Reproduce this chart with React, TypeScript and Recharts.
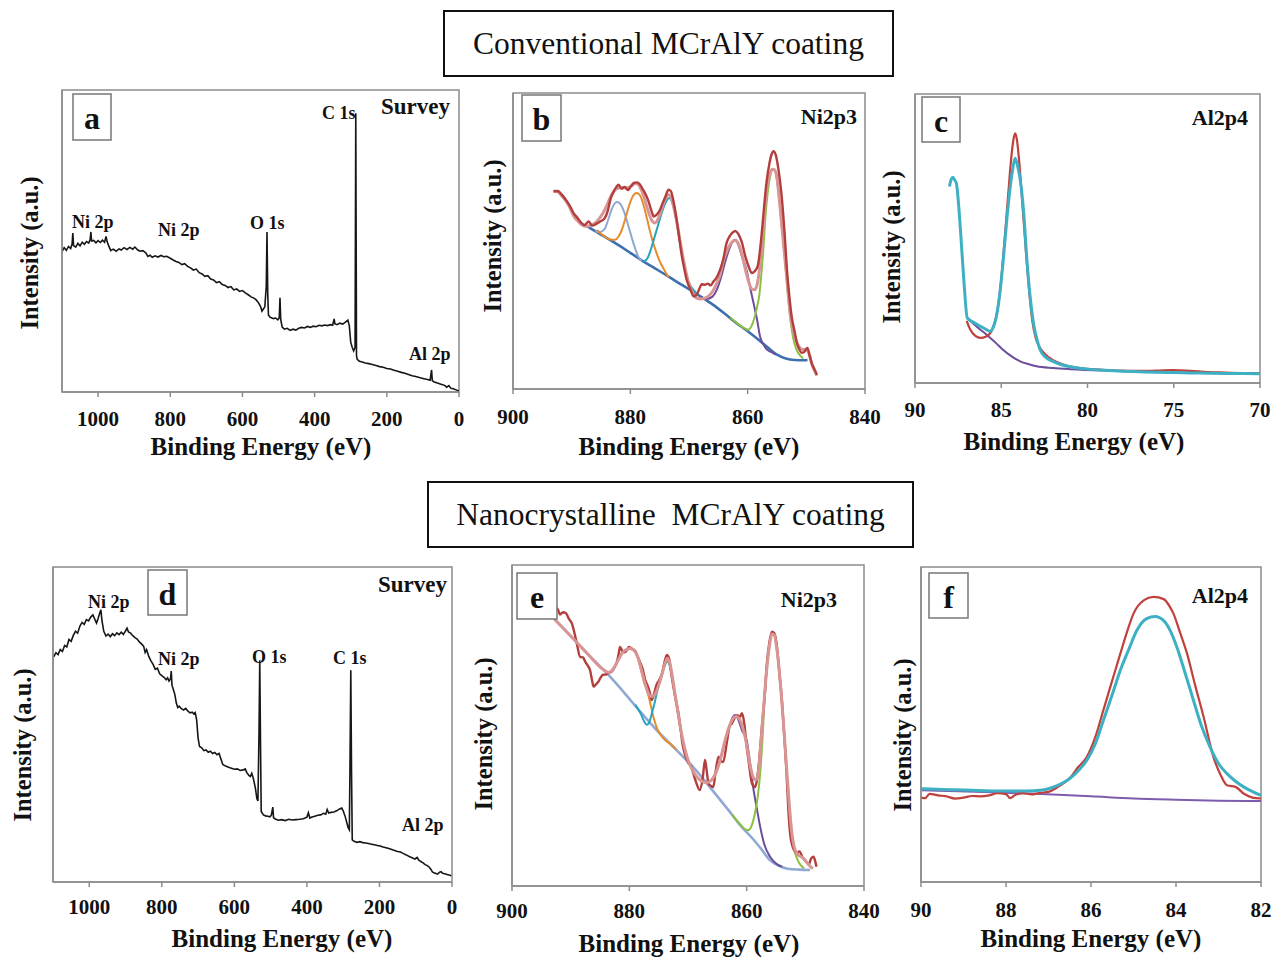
import React from 'react';
import { LineChart, Line, XAxis, YAxis, ReferenceArea } from 'recharts';

const FONT = '"Liberation Serif", "Times New Roman", serif';

// ---------- Panel a: survey, conventional ----------
const aSurvey: [number, number][] = [
  [1100, 46.5], [1094, 47.8], [1088, 46.9], [1082, 48.2], [1076, 47.5], [1072, 49], [1070, 52.6], [1068, 48.5],
  [1062, 48], [1056, 49.2], [1050, 48.4], [1044, 49.6], [1038, 48.9], [1032, 49.8], [1026, 49.3], [1022, 50.5],
  [1020, 53], [1018, 50], [1012, 50.2], [1006, 49.4], [1000, 50.1], [994, 49.5], [988, 50.3], [982, 49.6],
  [978, 51.5], [975, 49.8], [970, 48.2], [965, 46.8], [958, 47.3], [950, 46.6], [942, 47.4], [936, 47],
  [928, 47.8], [920, 47.2], [912, 47.9], [904, 47.3], [898, 48], [890, 47], [884, 46.6], [876, 46.8],
  [868, 46.1], [862, 44.9], [856, 45.3], [850, 44.6], [842, 45.1], [834, 44.7], [826, 45.2], [818, 44.8],
  [810, 44.9], [800, 44.3], [792, 43.7], [784, 43.2], [776, 42.9], [768, 42.2], [760, 42.5], [752, 41.6],
  [744, 41.1], [736, 40.4], [728, 40.7], [720, 39.5], [712, 39.1], [704, 38.3], [696, 38.5], [688, 37.4],
  [680, 37.1], [672, 36.2], [664, 36.5], [656, 35.6], [648, 35.3], [640, 34.6], [632, 34.9], [624, 33.8],
  [616, 34.1], [608, 33.3], [600, 33.6], [592, 32.8], [584, 32.2], [576, 31.5], [568, 31.1], [562, 30.5],
  [556, 29.6], [550, 28.4], [546, 26.8], [542, 27.5], [538, 28.2], [534, 35], [532, 53], [530, 33],
  [528, 25.5], [524, 24.8], [520, 24.6], [514, 24.3], [508, 24.5], [502, 23.9], [498, 24.6], [496, 31.2],
  [494, 24], [490, 21.5], [484, 20.8], [476, 21.1], [468, 20.4], [460, 20.8], [452, 20.5], [444, 21.1],
  [436, 21.4], [428, 21.2], [420, 21.7], [412, 21.4], [404, 21.8], [396, 21.6], [388, 22.1], [380, 21.9],
  [372, 22.2], [364, 22.0], [356, 22.3], [350, 22.1], [346, 24.2], [344, 22.6], [338, 22.3], [330, 22.8],
  [322, 22.5], [314, 23.2], [308, 23.8], [304, 22], [300, 16.5], [296, 14.8], [292, 13.6], [288, 14.8],
  [286, 92.3], [284, 12], [282, 10.8], [276, 10.2], [268, 9.9], [260, 9.6], [250, 9.4], [240, 9.1],
  [230, 8.8], [220, 8.4], [210, 8.2], [200, 7.8], [190, 7.6], [180, 7.2], [170, 6.9], [160, 6.5],
  [150, 6.2], [140, 5.8], [130, 5.4], [120, 5.1], [110, 4.8], [100, 4.5], [90, 4.2], [80, 3.9],
  [76, 7.3], [74, 3.8], [70, 3.4], [60, 3.0], [50, 2.6], [40, 2.2], [34, 1.6], [28, 2.1],
  [22, 1.2], [14, 1.0], [8, 0.7], [0, 0.3],
];

// ---------- Panel b: Ni2p3, conventional ----------
const bRaw: [number, number][] = [
  [893.1, 66.8], [892.4, 66.9], [891.6, 65.5], [890.8, 63.4], [890.2, 61.5], [889.7, 59.5], [889.0, 57.8],
  [888.4, 56.2], [887.8, 55.4], [887.1, 56.6], [886.5, 55.2], [885.8, 55.8], [885.2, 56.5], [884.4, 57.6],
  [883.8, 60.5], [883.4, 64], [882.9, 66.5], [882.4, 68.2], [882.0, 69], [881.5, 67.6], [881.0, 68.3],
  [880.4, 67.2], [879.9, 68.5], [879.4, 69.6], [878.9, 69.8], [878.4, 69.2], [878.0, 67.9], [877.5, 66.2],
  [876.9, 63.4], [876.4, 60.2], [876.0, 58.3], [875.5, 58.9], [875.0, 60.3], [874.5, 62.8], [874.0, 65.1],
  [873.5, 67.3], [873.1, 66.9], [872.6, 63], [872.1, 57.2], [871.7, 51.5], [871.3, 45.9], [870.8, 40.5],
  [870.4, 36.9], [869.8, 33.8], [869.2, 31.3], [868.7, 31.8], [868.3, 33.5], [867.8, 35.4], [867.3, 35.2],
  [866.8, 35.6], [866.3, 35.0], [865.8, 36.4], [865.3, 37.6], [864.7, 40.3], [864.2, 43.5], [863.6, 49.3],
  [863.0, 51.8], [862.4, 53.1], [862.1, 53.4], [861.6, 52.4], [861.0, 49.6], [860.4, 44.8], [859.8, 41.2],
  [859.3, 39.2], [858.8, 39.8], [858.3, 41.4], [857.6, 52.7], [857.2, 61.5], [856.8, 69.6], [856.3, 76.1],
  [855.9, 79.4], [855.6, 80.3], [855.2, 79], [854.8, 74.8], [854.2, 65.1], [853.7, 52.5], [853.3, 40.3],
  [852.9, 31.5], [852.5, 24.5], [852.0, 19.4], [851.6, 15.5], [851.2, 13.4], [850.8, 12.2], [850.4, 12.4],
  [850.0, 13.6], [849.8, 13.9], [849.5, 11.8], [849.1, 8.8], [848.6, 6.6], [848.2, 4.8],
];
const bEnvelope: [number, number][] = [
  [893.1, 66.8], [892.4, 66.6], [891.6, 65], [890.8, 63], [890.2, 60.8], [889.7, 58.6], [889.0, 56.8],
  [888.4, 55.6], [887.8, 55.0], [887.1, 55.1], [886.4, 55.6], [885.8, 56.4], [885.2, 57.8], [884.6, 59.6],
  [884.0, 62], [883.4, 64.8], [882.8, 66.8], [882.2, 67.8], [881.6, 68], [881.0, 68], [880.4, 68],
  [879.8, 68.6], [879.2, 69.4], [878.7, 69.2], [878.2, 67.6], [877.6, 64.4], [877.0, 60.4], [876.4, 57.2],
  [875.8, 56.1], [875.2, 57.8], [874.6, 61.2], [874.0, 64.4], [873.5, 65.6], [873.0, 64.5], [872.5, 60.5],
  [871.9, 54.5], [871.3, 47.5], [870.7, 41.2], [870.1, 36.2], [869.4, 32.6], [868.7, 30.7], [868.0, 30.4],
  [867.3, 30.7], [866.6, 31.5], [865.9, 33.2], [865.2, 36], [864.7, 38.5], [864.2, 42.8], [863.6, 46.4],
  [863.0, 48.8], [862.4, 50.1], [862.1, 50.2], [861.6, 49.2], [861.0, 45.6], [860.4, 40.5], [859.8, 36],
  [859.3, 33.8], [858.8, 33.5], [858.5, 34.5], [858.1, 38.5], [857.6, 48.2], [857.1, 60.5], [856.7, 68.5],
  [856.2, 72.6], [855.8, 74.2], [855.4, 74], [855.0, 71.2], [854.5, 62], [854.0, 51.5], [853.5, 41],
  [853.1, 32.5], [852.7, 24.8], [852.2, 19.5], [851.7, 16.2], [851.3, 14.4], [850.8, 13.5], [850.3, 13.3],
  [849.9, 13.2], [849.4, 11], [849.0, 8], [848.6, 6.2], [848.2, 4.5],
];
const bBackground: [number, number][] = [
  [887.4, 55.0], [886, 53.3], [884, 51], [882, 48.6], [880, 46], [878, 43.4], [876, 41], [874, 38.6],
  [872, 36.1], [870, 33.7], [868, 31.2], [866, 28.6], [864, 25.6], [862, 22.4], [860, 19.5], [858, 16.4],
  [856.5, 13.9], [855, 11.6], [853.5, 10.3], [852, 9.8], [850.5, 9.7], [849.8, 9.8],
];
const bPeak882: [number, number][] = [
  [886.0, 53.3], [885.2, 53], [884.4, 54], [883.8, 57], [883.2, 60.6], [882.6, 62.8], [882.2, 63.2],
  [881.6, 62.2], [881.0, 59.5], [880.4, 55.6], [879.8, 51.4], [879.2, 47.6], [878.6, 44.5], [878.0, 43.4],
];
const bPeak879: [number, number][] = [
  [885.7, 53.7], [884.6, 51.8], [883.6, 50.6], [882.6, 50.4], [882.0, 51.5], [881.4, 54], [880.8, 58],
  [880.2, 62], [879.6, 65], [879.0, 66.2], [878.5, 65.8], [878.0, 63.8], [877.4, 59.5], [876.8, 54.5],
  [876.2, 50], [875.6, 46.3], [875.0, 43.2], [874.3, 40.5], [873.5, 37.8],
];
const bPeak873: [number, number][] = [
  [877.8, 43.1], [877.2, 43.8], [876.6, 46.5], [876.0, 50.5], [875.4, 54.5], [874.8, 58.5], [874.2, 62],
  [873.7, 64], [873.3, 64.5], [872.9, 63.2], [872.4, 59.5], [871.9, 54], [871.4, 48], [870.9, 42.5],
  [870.4, 38.2], [869.8, 35], [869.2, 33.4], [868.6, 32],
];
const bPeak862: [number, number][] = [
  [868.0, 31.2], [867.0, 30.4], [866.0, 31.2], [865.2, 33.8], [864.5, 38], [863.8, 43.2], [863.0, 48],
  [862.4, 50.2], [862.1, 50.4], [861.6, 48.8], [861.0, 45], [860.2, 40.3], [859.6, 34.5], [859.0, 29],
  [858.4, 23.5], [857.9, 17.8], [857.3, 15], [856.8, 13.5], [856.0, 12.5], [855.2, 11.6],
];
const bPeak855: [number, number][] = [
  [863.0, 24.2], [862.0, 22.6], [861.0, 21], [860.3, 20.3], [859.9, 20], [859.3, 21.5], [858.5, 26.8],
  [858.0, 32], [857.6, 40.3], [857.3, 48], [857.0, 57.5], [856.6, 66], [856.2, 71.5], [855.8, 74],
  [855.5, 74], [855.1, 71.8], [854.6, 63.5], [854.1, 53], [853.6, 42.5], [853.2, 33.5], [852.8, 25],
  [852.4, 19], [852.0, 15.2], [851.5, 12.6], [851.0, 11.2], [850.5, 10.3],
];

// ---------- Panel c: Al2p, conventional ----------
const cRaw: [number, number][] = [
  [87.0, 21.5], [86.8, 18.5], [86.5, 16.3], [86.2, 15.6], [85.9, 16], [85.6, 17.6], [85.4, 20.5],
  [85.2, 26], [85.0, 36], [84.8, 50], [84.6, 65], [84.45, 76], [84.3, 84], [84.2, 86.4], [84.1, 84.5],
  [83.95, 76], [83.8, 64], [83.6, 48], [83.4, 33], [83.2, 21.5], [83.0, 15.5], [82.8, 12.6], [82.5, 10.2],
  [82.0, 7.9], [81.5, 6.6], [81.0, 5.7], [80.0, 4.9], [79.0, 4.5], [78.0, 4.3], [77.0, 4.2], [76.0, 4.3],
  [75.0, 4.5], [74.0, 4.2], [73.0, 3.8], [72.0, 3.6], [71.0, 3.4], [70.0, 3.3],
];
const cFit: [number, number][] = [
  [88.0, 68], [87.9, 70.5], [87.8, 71.2], [87.7, 70.2], [87.6, 69.1], [87.45, 60], [87.3, 47.2],
  [87.15, 34], [86.97, 22.5], [86.6, 21], [86.2, 19.6], [85.9, 18.6], [85.65, 17.9], [85.45, 19.5],
  [85.3, 22.5], [85.1, 30], [84.9, 41.5], [84.7, 55], [84.5, 66.8], [84.35, 73.5], [84.2, 77.8],
  [84.05, 75], [83.9, 70.3], [83.7, 59], [83.5, 41.5], [83.3, 28.5], [83.1, 19.6], [82.9, 14.5],
  [82.75, 11.5], [82.4, 8.8], [82.0, 7.5], [81.5, 6.3], [81.0, 5.6], [80.0, 4.8], [79.0, 4.4],
  [78.0, 4.1], [77.0, 3.9], [76.0, 3.7], [75.0, 3.6], [74.0, 3.5], [73.0, 3.4], [72.0, 3.3],
  [71.0, 3.25], [70.0, 3.2],
];
const cBackground: [number, number][] = [
  [86.97, 22.5], [86.4, 19.4], [85.85, 16.7], [85.3, 13.8], [84.9, 11.5], [84.4, 9.2], [83.9, 7.5],
  [83.4, 6.5], [82.95, 5.8], [82, 5.2], [81, 4.8], [79, 4.3], [77, 4.0], [75, 3.7], [73, 3.5], [70, 3.2],
];

// ---------- Panel d: survey, nanocrystalline ----------
const dSurvey: [number, number][] = [
  [1098, 71.5], [1092, 72.8], [1086, 72.2], [1080, 73.8], [1074, 73.2], [1068, 75.1], [1062, 74.6],
  [1056, 77], [1050, 76.4], [1044, 78.3], [1038, 79.6], [1032, 79], [1026, 81.2], [1020, 82.4],
  [1014, 81.8], [1008, 83.3], [1002, 82.9], [996, 84.1], [990, 84.8], [984, 83.2], [980, 82.2],
  [976, 83.5], [972, 85.1], [968, 86.4], [965, 83], [960, 79.6], [954, 78.1], [948, 78.7], [942, 77.9],
  [936, 78.8], [930, 78.2], [924, 79.1], [918, 78.5], [912, 79.3], [906, 78.6], [900, 79.7], [896, 80.6],
  [892, 79.4], [886, 79], [880, 78.2], [874, 77.6], [868, 77.1], [862, 76.2], [856, 75.6], [850, 74.8],
  [846, 72.9], [842, 73.8], [836, 71.6], [830, 70.2], [824, 69.1], [818, 67.5], [812, 67.9], [806, 66.1],
  [800, 65.5], [794, 65], [788, 64.2], [784, 64.8], [780, 63.8], [776, 64.5], [774, 67], [772, 62.5],
  [768, 61], [764, 59.5], [760, 56.8], [756, 55.4], [752, 55.8], [746, 55], [740, 54.6], [734, 55.1],
  [728, 54.2], [722, 53.7], [716, 53.9], [712, 53.4], [708, 53.8], [704, 51.5], [700, 45.7], [696, 43],
  [690, 42.6], [684, 41.7], [678, 41.9], [672, 41.2], [666, 41.5], [660, 40.8], [654, 41.1], [648, 40.4],
  [642, 40.8], [638, 39.4], [632, 37.3], [624, 36.8], [616, 36.4], [608, 36.1], [600, 35.8], [592, 35.9],
  [584, 35.4], [576, 35.6], [570, 35.9], [566, 34.8], [560, 33.8], [556, 33.5], [552, 34.5], [548, 33],
  [542, 29.8], [538, 26.5], [535, 25.7], [532, 48], [530, 70.4], [528, 45], [526, 22.4], [520, 21.3],
  [514, 21], [508, 20.9], [502, 20.7], [498, 21.2], [494, 23.8], [492, 20.4], [486, 19.9], [478, 19.6],
  [470, 19.8], [460, 19.5], [450, 19.9], [440, 19.7], [430, 19.8], [420, 19.9], [410, 20.1], [400, 20.6],
  [396, 22], [392, 20.3], [386, 20.6], [378, 20.9], [370, 21.2], [362, 21.3], [354, 21.8], [348, 21.5],
  [344, 23], [340, 21.9], [334, 22.1], [326, 22.2], [318, 22.6], [310, 23.2], [304, 23.5], [300, 22.6],
  [294, 20.6], [290, 18.8], [286, 17.2], [283, 16.6], [281, 40], [279, 67.2], [277, 35], [275, 13.4],
  [270, 12.9], [262, 12.6], [254, 12.8], [246, 12.5], [238, 12.4], [230, 12.2], [222, 12], [214, 11.8],
  [206, 11.6], [198, 11.4], [190, 11.1], [182, 10.9], [174, 10.6], [166, 10.3], [158, 10.0], [150, 9.7],
  [142, 9.5], [134, 9.0], [126, 8.6], [118, 8.1], [110, 7.7], [102, 7.3], [96, 7.8], [92, 7.0], [86, 6.5],
  [80, 6.1], [74, 5.5], [68, 5.2], [62, 4.6], [58, 4.0], [54, 3.2], [50, 2.9], [44, 2.7], [40, 2.5],
  [34, 3.1], [30, 3.3], [26, 2.8], [20, 2.6], [14, 2.4], [8, 2.2], [2, 2.0],
];

// ---------- Panel e: Ni2p3, nanocrystalline ----------
const eRaw: [number, number][] = [
  [892.6, 85.5], [892.3, 86.5], [891.8, 84.6], [891.3, 85.3], [890.8, 85], [890.3, 83.2], [889.8, 81.8],
  [889.3, 78.4], [888.9, 75.1], [888.4, 71.4], [887.9, 71.2], [887.5, 69.8], [887.0, 68.4], [886.7, 67.3],
  [886.4, 64.5], [886.1, 62.1], [885.7, 62.8], [885.3, 63.6], [884.9, 64.9], [884.5, 65.8], [884.0, 65.9],
  [883.5, 66.4], [883.0, 66.8], [882.5, 68.2], [882.1, 69.9], [881.8, 72.5], [881.6, 74.5], [881.2, 73.2],
  [880.8, 72.8], [880.4, 73.5], [880.1, 74.5], [879.6, 74], [879.0, 73.2], [878.6, 71.6], [878.2, 69.9],
  [877.7, 67.4], [877.3, 64.2], [876.9, 62.5], [876.5, 60.3], [876.2, 57.9], [875.8, 59.8], [875.4, 62.5],
  [874.9, 64.2], [874.4, 66.4], [874.0, 69.8], [873.6, 72], [873.2, 70.8], [872.9, 66.8], [872.5, 62.1],
  [872.1, 58.2], [871.7, 54.5], [871.3, 49.6], [871.0, 45], [870.6, 41.5], [870.2, 39.3], [869.9, 38.2],
  [869.5, 37.4], [869.1, 35.1], [868.6, 32.2], [868.0, 29.9], [867.5, 33.5], [867.1, 39.3], [866.8, 35.8],
  [866.5, 31.8], [866.1, 31.2], [865.7, 30.8], [865.3, 35.5], [864.8, 40.3], [864.5, 39.3], [864.0, 38.6],
  [863.4, 44.5], [862.9, 49.8], [862.5, 50.7], [862.0, 52.5], [861.6, 53.2], [861.2, 52.6], [860.8, 53.8],
  [860.4, 50.5], [860.0, 43.4], [859.6, 38], [859.1, 32], [858.6, 30.8], [858.3, 32.5], [857.9, 38.5],
  [857.4, 49.6], [856.9, 60], [856.6, 68.3], [856.2, 75], [855.7, 79.2], [855.3, 78.8], [854.9, 75.5],
  [854.4, 66], [854.0, 57.9], [853.6, 47], [853.2, 35.1], [852.9, 24], [852.6, 16.4], [852.2, 12.5],
  [851.8, 10.8], [851.5, 10.2], [851.0, 10.8], [850.5, 9], [850.1, 8.1], [849.7, 7.2], [849.4, 6.8],
  [849.0, 8.6], [848.6, 9.1], [848.3, 7.6], [848.1, 6],
];
const eEnvelope: [number, number][] = [
  [892.9, 83.4], [890, 77.9], [887, 72.1], [884.5, 67.5], [883.5, 66.5], [882.8, 67.5], [882, 70],
  [881.2, 72.6], [880.4, 73.8], [879.9, 74], [879.2, 73.4], [878.6, 71.5], [878.0, 67.8], [877.4, 63.5],
  [876.8, 60.2], [876.2, 59], [875.6, 59.8], [875.0, 62.5], [874.4, 66.2], [873.9, 69.5], [873.5, 70.9],
  [873.1, 69.5], [872.6, 64.5], [872.1, 58.5], [871.6, 52.8], [871.1, 47.5], [870.5, 42.5], [869.9, 38.8],
  [869.2, 36], [868.4, 33.8], [867.6, 32.6], [866.8, 32.2], [866.0, 33], [865.2, 35.5], [864.5, 39.3],
  [863.8, 44.5], [863.0, 49.5], [862.3, 52.2], [861.8, 52.8], [861.3, 52.2], [860.7, 49.5], [860.0, 44],
  [859.4, 37.5], [858.8, 33.5], [858.4, 33], [858.0, 35.5], [857.6, 44], [857.1, 56], [856.6, 67],
  [856.1, 75], [855.7, 78.5], [855.3, 78.2], [854.8, 73], [854.2, 62], [853.7, 50], [853.2, 37],
  [852.7, 24.5], [852.3, 16.5], [851.9, 12.2], [851.4, 10], [850.8, 9.2], [850.2, 8.4], [849.6, 7],
  [849.1, 6], [848.7, 5.4],
];
const eBackground: [number, number][] = [
  [892.9, 83.4], [890, 77.9], [887, 72.1], [884, 66.6], [881, 60.5], [878, 54], [875, 47.9], [872, 42.4],
  [869, 36.8], [866, 30.2], [863, 23.4], [861, 18.7], [859, 14.8], [857.5, 11.5], [856, 8], [854.5, 6.3],
  [853, 5.4], [851, 5.1], [849.2, 5.0],
];
const ePeak879: [number, number][] = [
  [883.5, 66.5], [882.8, 67.5], [882, 70], [881.2, 72.6], [880.4, 73.8], [879.9, 74], [879.2, 73.4],
  [878.6, 71.3], [878.0, 67.2], [877.4, 63], [877.0, 61.1], [876.5, 57.5], [875.9, 52.7], [875.3, 49.2],
  [874.7, 47.2], [874.0, 45.6], [873.0, 44.3], [872.0, 42.5],
];
const ePeak873: [number, number][] = [
  [879, 56.5], [878, 53.5], [877.4, 51], [877, 50.2], [876.6, 51], [876.2, 53.5], [875.7, 57],
  [875.2, 61], [874.7, 64.5], [874.2, 67.5], [873.8, 69.3], [873.5, 69.9], [873.1, 68.5], [872.6, 63.8],
  [872.1, 58], [871.6, 52.5], [871.1, 47], [870.5, 42.2], [869.9, 39], [869.2, 37],
];
const ePeak862: [number, number][] = [
  [867, 32.4], [866, 33], [865.2, 35.5], [864.5, 39.3], [863.8, 44.5], [863, 49.5], [862.4, 52.5],
  [862, 53.3], [861.5, 52.2], [860.8, 48.5], [860, 45.5], [859.4, 38], [858.9, 30.9], [858.3, 24.5],
  [857.7, 18.5], [857.0, 13], [856.0, 9.1], [855.0, 7], [854.0, 6],
];
const ePeak855: [number, number][] = [
  [862.5, 22.3], [861, 19], [860.2, 17.6], [859.7, 17.4], [859.2, 18.6], [858.6, 22.6], [858.1, 28],
  [857.7, 35.1], [857.3, 46], [856.9, 60], [856.5, 69], [856.1, 75.5], [855.7, 78.5], [855.3, 78.2],
  [854.8, 73], [854.2, 62], [853.7, 50], [853.2, 37], [852.7, 24.5], [852.3, 16.5], [851.9, 11.5],
  [851.4, 8.5], [850.8, 6.5], [850.2, 5.6],
];

// ---------- Panel f: Al2p, nanocrystalline ----------
const fRaw: [number, number][] = [
  [90.0, 26.8], [89.9, 26.6], [89.8, 28], [89.6, 27.5], [89.4, 27.2], [89.2, 26.5], [89.0, 26.8],
  [88.8, 27.3], [88.6, 27.2], [88.4, 27.5], [88.2, 28.2], [88.0, 27.9], [87.9, 26.6], [87.8, 27.5],
  [87.6, 28.2], [87.4, 27.8], [87.2, 28.3], [87.0, 28.6], [86.8, 30], [86.5, 33], [86.3, 36.5],
  [86.1, 39.7], [85.9, 46], [85.71, 54.5], [85.5, 64], [85.31, 72.5], [85.15, 79.5], [85.0, 85.2],
  [84.76, 89.4], [84.53, 90.5], [84.29, 89.8], [84.15, 87.5], [84.06, 85.2], [83.9, 79], [83.74, 72.5],
  [83.55, 62.5], [83.35, 52.4], [83.12, 39.7], [82.95, 34], [82.8, 30.7], [82.6, 30.2], [82.4, 28],
  [82.2, 26.8], [82.0, 26.5],
];
const fFit: [number, number][] = [
  [90.0, 29.6], [89.5, 29.4], [89.0, 29.2], [88.5, 29.0], [88.0, 28.9], [87.5, 28.9], [87.2, 29.1],
  [87.0, 29.6], [86.8, 30.6], [86.5, 32.8], [86.3, 35.3], [86.1, 38.6], [85.9, 43.8], [85.71, 51.3],
  [85.5, 59.5], [85.31, 67.2], [85.1, 74.2], [84.92, 79.9], [84.69, 83.6], [84.49, 84.3], [84.29, 83],
  [84.15, 80.2], [83.98, 74.6], [83.8, 67], [83.59, 57.7], [83.4, 49.5], [83.2, 42.9], [83.0, 37.6],
  [82.8, 34.4], [82.6, 32], [82.41, 30.2], [82.2, 28.7], [82.0, 27.5],
];
const fBackground: [number, number][] = [
  [90.0, 29.1], [88.5, 28.6], [87.3, 28], [86, 27.2], [85, 26.5], [84, 26.1], [83, 25.8], [82, 25.7],
];

type Series = { pts: [number, number][]; color: string; width: number; smooth?: boolean };

const AXIS_GREY = '#8c8c8c';
const MT = 4, PAD = 30, LW = 10, BH = 40;

function Panel(props: {
  left: number; top: number; w: number; h: number; xDomain: [number, number]; xTicks: number[];
  series: Series[]; tickGap: number;
}) {
  const { left, top, w, h, xDomain, xTicks, series, tickGap } = props;
  return (
    <div style={{ position: 'absolute', left: left - LW - PAD, top: top - MT }}>
      <LineChart width={PAD + LW + w + PAD} height={MT + h + BH} margin={{ top: MT, right: PAD, left: PAD, bottom: 0 }}>
        <XAxis
          type="number"
          dataKey="x"
          domain={xDomain}
          ticks={xTicks}
          reversed
          allowDataOverflow
          height={BH}
          axisLine={{ stroke: AXIS_GREY, strokeWidth: 1.5 }}
          tickLine={{ stroke: AXIS_GREY, strokeWidth: 1.5 }}
          tickSize={5}
          tickMargin={tickGap}
          tick={{ fill: '#111', fontSize: 21, fontWeight: 'bold', fontFamily: FONT }}
          interval={0}
        />
        <YAxis
          type="number"
          domain={[0, 100]}
          width={LW}
          tick={false}
          tickLine={false}
          axisLine={{ stroke: AXIS_GREY, strokeWidth: 1.5 }}
          allowDataOverflow
        />
        <ReferenceArea
          x1={xDomain[0]} x2={xDomain[1]} y1={0} y2={100}
          fill="none" stroke={AXIS_GREY} strokeWidth={1.5} ifOverflow="visible"
        />
        {series.map((s, i) => (
          <Line
            key={i}
            data={s.pts.map(([x, y]) => ({ x, y }))}
            dataKey="y"
            type={s.smooth ? 'monotone' : 'linear'}
            stroke={s.color}
            strokeWidth={s.width}
            dot={false}
            activeDot={false}
            isAnimationActive={false}
          />
        ))}
      </LineChart>
    </div>
  );
}

const BLACK = '#161616';
const RED = '#b23f3d';
const PINK = '#d99593';
const BLUE = '#3e6fae';
const LIGHTBLUE = '#8fa9d4';
const ORANGE = '#e58d2c';
const TEAL = '#27a3bd';
const PURPLE = '#6b4d9b';
const GREEN = '#8dbf45';
const CYAN = '#3eb0c3';

const txt = { fontFamily: FONT, fontWeight: 700 as const, fill: '#111' };

function LetterBox({ x, y, w, h, c }: { x: number; y: number; w: number; h: number; c: string }) {
  return (
    <g>
      <rect x={x} y={y} width={w} height={h} fill="#fff" stroke="#777" strokeWidth={1.5} />
      <text x={x + w / 2} y={y + h / 2 + 1} textAnchor="middle" dominantBaseline="central" fontSize={32} {...txt}>{c}</text>
    </g>
  );
}

function YLabel({ x, y }: { x: number; y: number }) {
  return (
    <text transform={`translate(${x},${y}) rotate(-90)`} textAnchor="middle" dominantBaseline="central" fontSize={24.5} {...txt}>
      Intensity (a.u.)
    </text>
  );
}

function XLabel({ x, y }: { x: number; y: number }) {
  return (
    <text x={x} y={y} textAnchor="middle" fontSize={25} {...txt}>Binding Energy (eV)</text>
  );
}

function Ann({ x, y, s, size = 18, anchor = 'start' }: { x: number; y: number; s: string; size?: number; anchor?: string }) {
  return <text x={x} y={y} fontSize={size} textAnchor={anchor as any} {...txt}>{s}</text>;
}

export default function App() {
  return (
    <div style={{ position: 'absolute', left: 0, top: 0, width: 1276, height: 959, background: '#fff', overflow: 'hidden' }}>
      {/* titles */}
      <div style={{ position: 'absolute', left: 443, top: 10, width: 451, height: 67, boxSizing: 'border-box', border: '2px solid #111', display: 'flex', alignItems: 'center', justifyContent: 'center', fontFamily: FONT, fontSize: 31.5, color: '#111' }}>
        Conventional MCrAlY coating
      </div>
      <div style={{ position: 'absolute', left: 427, top: 481, width: 487, height: 67, boxSizing: 'border-box', border: '2px solid #111', display: 'flex', alignItems: 'center', justifyContent: 'center', fontFamily: FONT, fontSize: 31.5, color: '#111', whiteSpace: 'pre' }}>
        {'Nanocrystalline  MCrAlY coating'}
      </div>

      <Panel left={62} top={90} w={397} h={302} xDomain={[0, 1100]} xTicks={[0, 200, 400, 600, 800, 1000]} tickGap={14}
        series={[{ pts: aSurvey, color: BLACK, width: 1.6 }]} />
      <Panel left={513} top={93} w={352} h={296} xDomain={[840, 900]} xTicks={[840, 860, 880, 900]} tickGap={15}
        series={[
          { pts: bBackground, color: BLUE, width: 2.6, smooth: true },
          { pts: bPeak882, color: LIGHTBLUE, width: 2, smooth: true },
          { pts: bPeak879, color: ORANGE, width: 2, smooth: true },
          { pts: bPeak873, color: TEAL, width: 2, smooth: true },
          { pts: bPeak862, color: PURPLE, width: 2, smooth: true },
          { pts: bPeak855, color: GREEN, width: 2, smooth: true },
          { pts: bEnvelope, color: PINK, width: 3, smooth: true },
          { pts: bRaw, color: RED, width: 2.4, smooth: true },
        ]} />
      <Panel left={915} top={94} w={345} h={289} xDomain={[70, 90]} xTicks={[70, 75, 80, 85, 90]} tickGap={14}
        series={[
          { pts: cBackground, color: PURPLE, width: 2, smooth: true },
          { pts: cRaw, color: '#c0403c', width: 2.2, smooth: true },
          { pts: cFit, color: CYAN, width: 3, smooth: true },
        ]} />
      <Panel left={53} top={567} w={399} h={315} xDomain={[0, 1100]} xTicks={[0, 200, 400, 600, 800, 1000]} tickGap={12}
        series={[{ pts: dSurvey, color: BLACK, width: 1.6 }]} />
      <Panel left={512} top={565} w={352} h={321} xDomain={[840, 900]} xTicks={[840, 860, 880, 900]} tickGap={12}
        series={[
          { pts: eBackground, color: LIGHTBLUE, width: 2.6, smooth: true },
          { pts: ePeak879, color: ORANGE, width: 2, smooth: true },
          { pts: ePeak873, color: TEAL, width: 2, smooth: true },
          { pts: ePeak862, color: PURPLE, width: 2, smooth: true },
          { pts: ePeak855, color: GREEN, width: 2, smooth: true },
          { pts: eRaw, color: RED, width: 2.4, smooth: true },
          { pts: eEnvelope, color: PINK, width: 3, smooth: true },
        ]} />
      <Panel left={921} top={567} w={340} h={315} xDomain={[82, 90]} xTicks={[82, 84, 86, 88, 90]} tickGap={15}
        series={[
          { pts: fBackground, color: '#7d5cae', width: 2, smooth: true },
          { pts: fRaw, color: '#c0403c', width: 2.2, smooth: true },
          { pts: fFit, color: CYAN, width: 3, smooth: true },
        ]} />

      <svg width={1276} height={959} style={{ position: 'absolute', left: 0, top: 0, pointerEvents: 'none' }}>
        {/* panel a */}
        <LetterBox x={73} y={94} w={38} h={46} c="a" />
        <Ann x={450} y={114} s="Survey" size={23} anchor="end" />
        <Ann x={322} y={119} s="C 1s" />
        <Ann x={72} y={228} s="Ni 2p" />
        <Ann x={158} y={236} s="Ni 2p" />
        <Ann x={250} y={229} s="O 1s" />
        <Ann x={409} y={360} s="Al 2p" />
        <YLabel x={29} y={253} />
        <XLabel x={261} y={455} />
        {/* panel b */}
        <LetterBox x={522} y={95} w={39} h={46} c="b" />
        <Ann x={857} y={124} s="Ni2p3" size={22} anchor="end" />
        <YLabel x={492} y={236} />
        <XLabel x={689} y={455} />
        {/* panel c */}
        <LetterBox x={922} y={97} w={38} h={45} c="c" />
        <Ann x={1248} y={125} s="Al2p4" size={22} anchor="end" />
        <YLabel x={891} y={247} />
        <XLabel x={1074} y={450} />
        {/* panel d */}
        <LetterBox x={148} y={570} w={39} h={45} c="d" />
        <Ann x={447} y={592} s="Survey" size={23} anchor="end" />
        <Ann x={88} y={608} s="Ni 2p" />
        <Ann x={158} y={665} s="Ni 2p" />
        <Ann x={252} y={663} s="O 1s" />
        <Ann x={333} y={664} s="C 1s" />
        <Ann x={402} y={831} s="Al 2p" />
        <YLabel x={22} y={745} />
        <XLabel x={282} y={947} />
        {/* panel e */}
        <LetterBox x={517} y={573} w={40} h={46} c="e" />
        <Ann x={837} y={607} s="Ni2p3" size={22} anchor="end" />
        <YLabel x={483} y={734} />
        <XLabel x={689} y={952} />
        {/* panel f */}
        <LetterBox x={929} y={573} w={39} h={45} c="f" />
        <Ann x={1248} y={603} s="Al2p4" size={22} anchor="end" />
        <YLabel x={902} y={735} />
        <XLabel x={1091} y={947} />
      </svg>
    </div>
  );
}
